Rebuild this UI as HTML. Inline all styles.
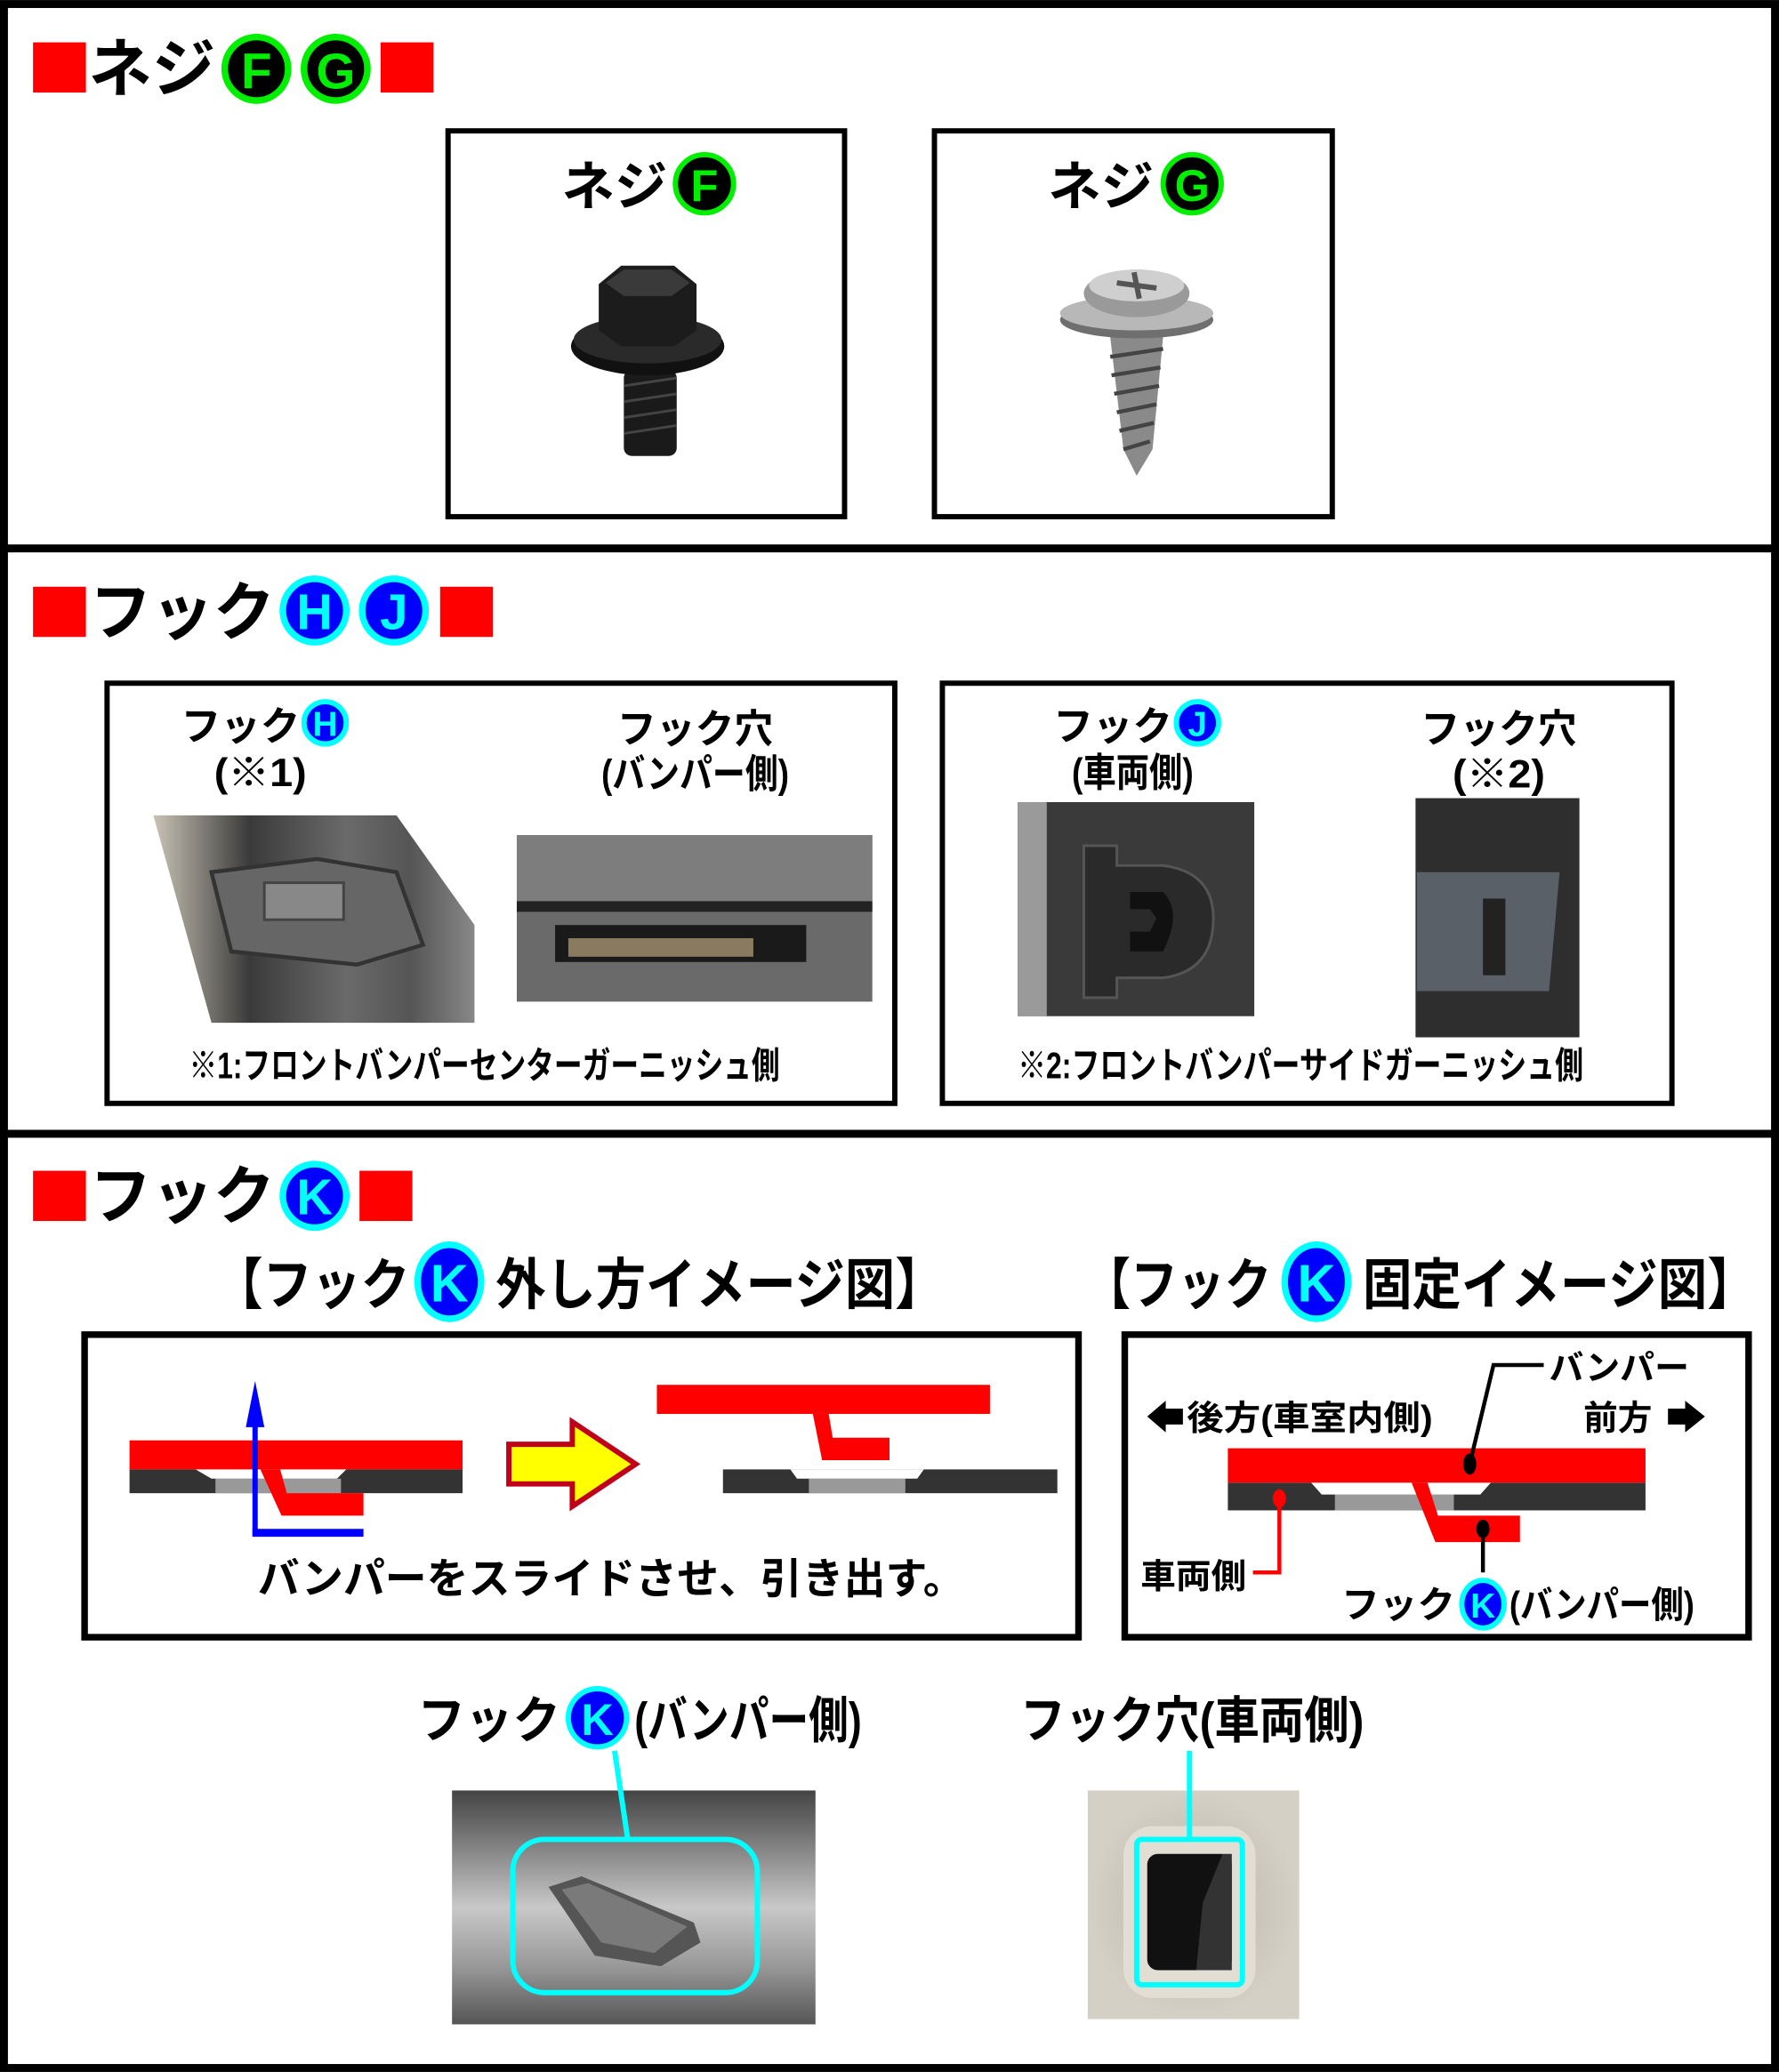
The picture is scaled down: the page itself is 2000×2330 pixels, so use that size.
<!DOCTYPE html>
<html><head><meta charset="utf-8"><style>
html,body{margin:0;padding:0;background:#fff}
svg{display:block}
text{font-family:"Liberation Sans","Noto Sans CJK JP",sans-serif;font-weight:bold;fill:#000}
.b{font-family:"Liberation Sans",sans-serif;font-weight:bold}
</style></head><body>
<svg width="2000" height="2330" viewBox="0 0 1346 1568" xmlns="http://www.w3.org/2000/svg">
<defs>
<linearGradient id="g1" x1="0" x2="1" y1="0" y2="0"><stop offset="0" stop-color="#c9c3b5"/><stop offset=".3" stop-color="#3a3a3a"/><stop offset=".6" stop-color="#6a6a6a"/><stop offset=".8" stop-color="#555"/><stop offset="1" stop-color="#888"/></linearGradient>
<linearGradient id="g2" x1="0" x2="0" y1="0" y2="1"><stop offset="0" stop-color="#444"/><stop offset=".2" stop-color="#777"/><stop offset=".5" stop-color="#c8c8c8"/><stop offset=".75" stop-color="#999"/><stop offset="1" stop-color="#555"/></linearGradient>
<radialGradient id="g3"><stop offset="0" stop-color="#b9b4a8"/><stop offset="1" stop-color="#d4d0c5"/></radialGradient>
</defs>
<rect x="0" y="0" width="1346" height="1568" fill="#fff"/>
<rect x="3" y="3" width="1340" height="1562" fill="none" stroke="#000" stroke-width="6"/>
<rect x="0" y="412" width="1346" height="6" fill="#000"/>
<rect x="0" y="855" width="1346" height="6" fill="#000"/>

<!-- Section 1 -->
<rect x="25" y="32" width="40" height="38" fill="#f00"/>
<text x="67" y="69" font-size="48" textLength="96" lengthAdjust="spacingAndGlyphs">ネジ</text>
<g stroke="#0e0" stroke-width="5"><circle cx="194" cy="52" r="24" fill="#000"/><circle cx="254" cy="52" r="24" fill="#000"/></g>
<text class="b" x="194" y="67" font-size="38" text-anchor="middle" style="fill:#0e0">F</text>
<text class="b" x="254" y="67" font-size="38" text-anchor="middle" style="fill:#0e0">G</text>
<rect x="288" y="32" width="40" height="38" fill="#f00"/>

<rect x="339" y="99" width="300" height="292" fill="none" stroke="#000" stroke-width="4"/>
<rect x="707" y="99" width="301" height="292" fill="none" stroke="#000" stroke-width="4"/>
<text x="425" y="155" font-size="40" textLength="80" lengthAdjust="spacingAndGlyphs">ネジ</text>
<circle cx="533" cy="139" r="22" fill="#000" stroke="#0e0" stroke-width="4"/>
<text class="b" x="533" y="152" font-size="34" text-anchor="middle" style="fill:#0e0">F</text>
<text x="793" y="155" font-size="40" textLength="80" lengthAdjust="spacingAndGlyphs">ネジ</text>
<circle cx="902" cy="139" r="22" fill="#000" stroke="#0e0" stroke-width="4"/>
<text class="b" x="902" y="152" font-size="34" text-anchor="middle" style="fill:#0e0">G</text>
<!-- screw F -->
<rect x="472" y="280" width="40" height="65" rx="6" fill="#1a1a1a"/>
<g stroke="#444" stroke-width="2"><line x1="472" y1="292" x2="512" y2="286"/><line x1="472" y1="304" x2="512" y2="298"/><line x1="472" y1="316" x2="512" y2="310"/><line x1="472" y1="328" x2="512" y2="322"/></g>
<ellipse cx="490" cy="262" rx="58" ry="22" fill="#111"/>
<ellipse cx="490" cy="257" rx="56" ry="18" fill="#2a2a2a"/>
<path d="M453 215 L470 201 L510 201 L527 215 L527 250 L510 262 L470 262 L453 250Z" fill="#1c1c1c"/>
<path d="M458 214 L472 204 L508 204 L522 214 L508 224 L472 224Z" fill="#3a3a3a"/>
<!-- screw G -->
<path d="M840 255 L880 255 L872 340 L860 360 L850 340Z" fill="#8a8a8a"/>
<g stroke="#444" stroke-width="3"><line x1="840" y1="270" x2="880" y2="264"/><line x1="841" y1="284" x2="878" y2="278"/><line x1="843" y1="298" x2="877" y2="292"/><line x1="845" y1="312" x2="875" y2="306"/><line x1="847" y1="326" x2="873" y2="320"/><line x1="850" y1="340" x2="870" y2="334"/></g>
<ellipse cx="860" cy="242" rx="58" ry="14" fill="#6f6f6f"/>
<ellipse cx="860" cy="237" rx="58" ry="13" fill="#b8b8b8"/>
<ellipse cx="860" cy="222" rx="40" ry="18" fill="#9a9a9a"/>
<ellipse cx="860" cy="216" rx="36" ry="12" fill="#cfcfcf"/>
<path d="M845 214 L875 218 M858 206 L862 226" stroke="#555" stroke-width="4"/>

<!-- Section 2 -->
<rect x="25" y="444" width="40" height="38" fill="#f00"/>
<text x="68" y="480" font-size="48" textLength="140" lengthAdjust="spacingAndGlyphs">フック</text>
<g stroke="#0ff" stroke-width="5" fill="#00f"><circle cx="238" cy="462" r="24"/><circle cx="298" cy="462" r="24"/></g>
<text class="b" x="238" y="476" font-size="38" text-anchor="middle" style="fill:#0ff">H</text>
<text class="b" x="298" y="476" font-size="38" text-anchor="middle" style="fill:#0ff">J</text>
<rect x="333" y="444" width="40" height="38" fill="#f00"/>

<rect x="81" y="517" width="596" height="318" fill="none" stroke="#000" stroke-width="4"/>
<rect x="713" y="517" width="552" height="318" fill="none" stroke="#000" stroke-width="4"/>
<text x="137" y="560" font-size="30" textLength="90" lengthAdjust="spacingAndGlyphs">フック</text>
<circle cx="246" cy="547" r="16" fill="#00f" stroke="#0ff" stroke-width="4"/>
<text class="b" x="246" y="557" font-size="26" text-anchor="middle" style="fill:#0ff">H</text>
<text x="162" y="595" font-size="30" textLength="70" lengthAdjust="spacingAndGlyphs">(※1)</text>
<text x="467" y="562" font-size="30" textLength="118" lengthAdjust="spacingAndGlyphs">フック穴</text>
<text x="455" y="596" font-size="30" textLength="142" lengthAdjust="spacingAndGlyphs">(バンパー側)</text>
<path d="M116 617 L300 617 L359 700 L359 774 L160 774 Z" fill="url(#g1)"/>
<path d="M160 660 L240 650 L300 660 L320 715 L270 730 L175 720 Z" fill="#666" stroke="#333" stroke-width="3"/>
<rect x="200" y="668" width="60" height="28" fill="#888" stroke="#444" stroke-width="2"/>
<rect x="391" y="632" width="269" height="126" fill="#6a6a6a"/>
<rect x="391" y="632" width="269" height="50" fill="#7d7d7d"/>
<rect x="420" y="700" width="190" height="28" fill="#1a1a1a"/>
<rect x="430" y="710" width="140" height="14" fill="#8a7a60"/>
<rect x="391" y="682" width="269" height="8" fill="#222"/>
<text x="143" y="816" font-size="28" textLength="447" lengthAdjust="spacingAndGlyphs">※1:フロントバンパーセンターガーニッシュ側</text>

<text x="797" y="560" font-size="30" textLength="90" lengthAdjust="spacingAndGlyphs">フック</text>
<circle cx="906" cy="547" r="16" fill="#00f" stroke="#0ff" stroke-width="4"/>
<text class="b" x="906" y="557" font-size="26" text-anchor="middle" style="fill:#0ff">J</text>
<text x="811" y="595" font-size="30" textLength="92" lengthAdjust="spacingAndGlyphs">(車両側)</text>
<text x="1075" y="562" font-size="30" textLength="118" lengthAdjust="spacingAndGlyphs">フック穴</text>
<text x="1099" y="596" font-size="30" textLength="70" lengthAdjust="spacingAndGlyphs">(※2)</text>
<rect x="770" y="607" width="179" height="162" fill="#3a3a3a"/>
<rect x="770" y="607" width="22" height="162" fill="#9a9a9a"/>
<path d="M820 640 L845 640 L845 655 L880 655 Q918 660 918 695 Q918 735 880 740 L845 740 L845 755 L820 755Z" fill="#2a2a2a" stroke="#555" stroke-width="2"/>
<path d="M855 675 L880 675 Q895 690 880 720 L855 720 L855 705 L870 705 L875 695 L870 688 L855 688Z" fill="#111"/>
<rect x="1071" y="604" width="124" height="181" fill="#2e2e2e"/>
<path d="M1072 660 L1180 660 L1172 750 L1072 750Z" fill="#5a6068"/>
<rect x="1122" y="680" width="17" height="58" fill="#222"/>
<text x="770" y="816" font-size="28" textLength="428" lengthAdjust="spacingAndGlyphs">※2:フロントバンパーサイドガーニッシュ側</text>

<!-- Section 3 -->
<rect x="25" y="886" width="40" height="38" fill="#f00"/>
<text x="68" y="922" font-size="48" textLength="140" lengthAdjust="spacingAndGlyphs">フック</text>
<circle cx="238" cy="905" r="24" fill="#00f" stroke="#0ff" stroke-width="5"/>
<text class="b" x="238" y="919" font-size="38" text-anchor="middle" style="fill:#0ff">K</text>
<rect x="272" y="886" width="40" height="38" fill="#f00"/>

<text x="162" y="987" font-size="42" textLength="148" lengthAdjust="spacingAndGlyphs">【フック</text>
<ellipse cx="340" cy="970" rx="24" ry="28" fill="#00f" stroke="#0ff" stroke-width="5"/>
<text class="b" x="340" y="985" font-size="40" text-anchor="middle" style="fill:#0ff">K</text>
<text x="375" y="987" font-size="42" textLength="340" lengthAdjust="spacingAndGlyphs">外し方イメージ図】</text>
<text x="820" y="987" font-size="42" textLength="142" lengthAdjust="spacingAndGlyphs">【フック</text>
<ellipse cx="996" cy="970" rx="24" ry="28" fill="#00f" stroke="#0ff" stroke-width="5"/>
<text class="b" x="996" y="985" font-size="40" text-anchor="middle" style="fill:#0ff">K</text>
<text x="1031" y="987" font-size="42" textLength="298" lengthAdjust="spacingAndGlyphs">固定イメージ図】</text>

<rect x="64" y="1010" width="752" height="229" fill="none" stroke="#000" stroke-width="5"/>
<rect x="851" y="1010" width="472" height="229" fill="none" stroke="#000" stroke-width="5"/>
<!-- left diagram -->
<rect x="98" y="1112" width="252" height="18" fill="#333"/>
<rect x="163" y="1119" width="95" height="11" fill="#999"/>
<path d="M148 1112 L262 1112 L255 1119 L160 1119Z" fill="#fff"/>
<rect x="98" y="1090" width="252" height="22" fill="#f00"/>
<path d="M197 1112 L212 1112 L217 1130 L275 1130 L275 1147 L213 1147Z" fill="#f00"/>
<line x1="193" y1="1162" x2="193" y2="1075" stroke="#00f" stroke-width="4"/>
<path d="M186 1080 L193 1045 L200 1080Z" fill="#00f"/>
<line x1="191" y1="1160" x2="275" y2="1160" stroke="#00f" stroke-width="6"/>
<path d="M385 1093 L433 1093 L433 1076 L481 1108 L433 1140 L433 1123 L385 1123Z" fill="#ff0" stroke="#c00018" stroke-width="4"/>
<rect x="497" y="1048" width="252" height="22" fill="#f00"/>
<path d="M615 1070 L627 1070 L630 1088 L673 1088 L673 1105 L622 1105Z" fill="#f00"/>
<rect x="547" y="1112" width="253" height="18" fill="#333"/>
<rect x="612" y="1119" width="73" height="11" fill="#999"/>
<path d="M598 1112 L699 1112 L694 1119 L603 1119Z" fill="#fff"/>
<text x="195" y="1206" font-size="32" textLength="535" lengthAdjust="spacingAndGlyphs">バンパーをスライドさせ、引き出す。</text>
<!-- right diagram -->
<rect x="929" y="1122" width="316" height="21" fill="#333"/>
<rect x="1010" y="1131" width="90" height="12" fill="#999"/>
<path d="M992 1122 L1128 1122 L1120 1131 L1000 1131Z" fill="#fff"/>
<rect x="929" y="1096" width="316" height="26" fill="#f00"/>
<path d="M1068 1122 L1080 1122 L1088 1147 L1150 1147 L1150 1167 L1086 1167Z" fill="#f00"/>
<ellipse cx="1112" cy="1108" rx="5" ry="8" fill="#000"/>
<path d="M1112 1108 L1130 1033 L1168 1033" fill="none" stroke="#000" stroke-width="3"/>
<text x="1172" y="1044" font-size="26" textLength="106" lengthAdjust="spacingAndGlyphs">バンパー</text>
<path d="M868 1072 L882 1060 L882 1066 L895 1066 L895 1078 L882 1078 L882 1084Z" fill="#000"/>
<text x="898" y="1082" font-size="26" textLength="186" lengthAdjust="spacingAndGlyphs">後方(車室内側)</text>
<text x="1198" y="1082" font-size="26" textLength="52" lengthAdjust="spacingAndGlyphs">前方</text>
<path d="M1262 1066 L1275 1066 L1275 1060 L1290 1072 L1275 1084 L1275 1078 L1262 1078Z" fill="#000"/>
<ellipse cx="968" cy="1134" rx="5" ry="7" fill="#f00"/>
<path d="M968 1134 L968 1190 L948 1190" fill="none" stroke="#f00" stroke-width="3"/>
<text x="863" y="1202" font-size="26" textLength="80" lengthAdjust="spacingAndGlyphs">車両側</text>
<ellipse cx="1122" cy="1157" rx="5" ry="7" fill="#000"/>
<line x1="1122" y1="1157" x2="1122" y2="1190" stroke="#000" stroke-width="3"/>
<text x="1015" y="1224" font-size="28" textLength="86" lengthAdjust="spacingAndGlyphs">フック</text>
<ellipse cx="1122" cy="1214" rx="16" ry="18" fill="#00f" stroke="#0ff" stroke-width="4"/>
<text class="b" x="1122" y="1224" font-size="26" text-anchor="middle" style="fill:#0ff">K</text>
<text x="1142" y="1224" font-size="28" textLength="140" lengthAdjust="spacingAndGlyphs">(バンパー側)</text>

<!-- bottom -->
<text x="316" y="1315" font-size="38" textLength="108" lengthAdjust="spacingAndGlyphs">フック</text>
<circle cx="452" cy="1300" r="22" fill="#00f" stroke="#0ff" stroke-width="4"/>
<text class="b" x="452" y="1313" font-size="34" text-anchor="middle" style="fill:#0ff">K</text>
<text x="480" y="1315" font-size="38" textLength="172" lengthAdjust="spacingAndGlyphs">(バンパー側)</text>
<text x="772" y="1315" font-size="38" textLength="260" lengthAdjust="spacingAndGlyphs">フック穴(車両側)</text>
<rect x="342" y="1355" width="275" height="177" fill="url(#g2)"/>
<path d="M415 1428 L440 1420 L525 1455 L530 1470 L500 1488 L450 1480 L430 1450Z" fill="#555"/>
<path d="M425 1430 L445 1425 L520 1458 L495 1478 L455 1470Z" fill="#7a7a7a"/>
<line x1="465" y1="1325" x2="475" y2="1392" stroke="#0ff" stroke-width="4"/>
<rect x="388" y="1392" width="185" height="116" rx="24" fill="none" stroke="#0ff" stroke-width="4"/>
<rect x="823" y="1355" width="160" height="173" fill="url(#g3)"/>
<rect x="850" y="1382" width="100" height="130" rx="22" fill="#e2ded4"/>
<rect x="868" y="1403" width="64" height="88" rx="8" fill="#111"/>
<path d="M910 1440 L925 1403 L932 1403 L932 1491 L905 1491Z" fill="#333"/>
<line x1="900" y1="1325" x2="900" y2="1392" stroke="#0ff" stroke-width="4"/>
<rect x="860" y="1392" width="80" height="110" rx="4" fill="none" stroke="#0ff" stroke-width="4"/>
</svg>
</body></html>
